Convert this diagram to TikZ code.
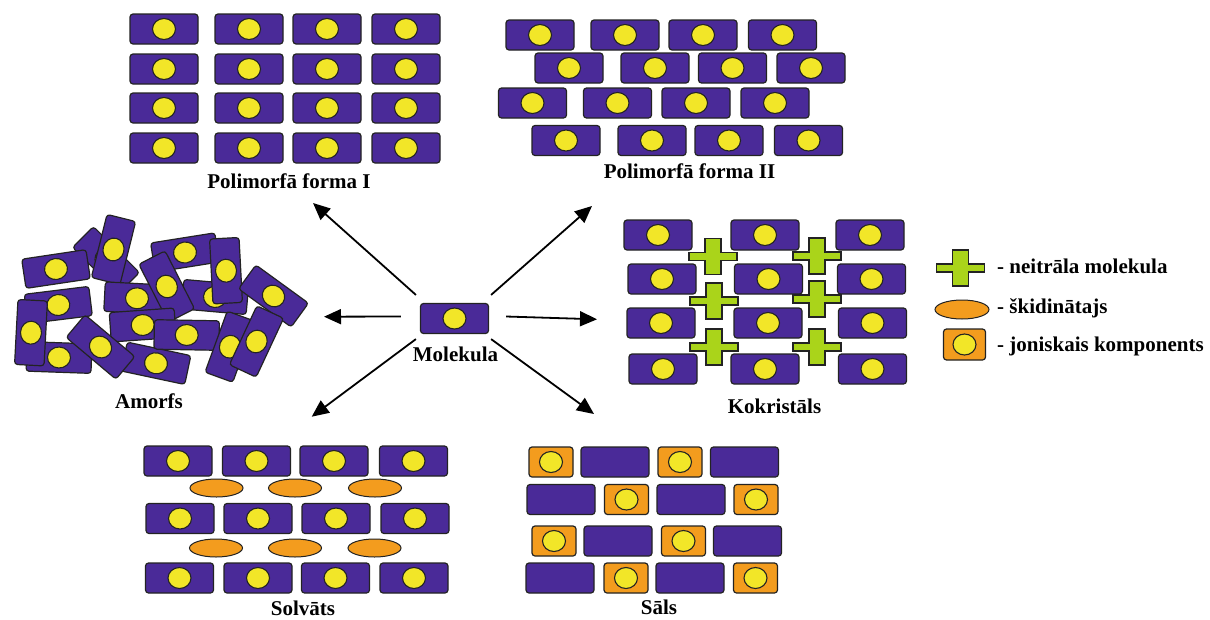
\documentclass[tikz,border=0pt]{standalone}
\usepackage{fontspec}
\setmainfont{Liberation Serif}
\usetikzlibrary{shapes.geometric,arrows.meta}

\definecolor{molpurple}{RGB}{74,42,152}
\definecolor{coreyellow}{RGB}{242,230,40}
\definecolor{ionorange}{RGB}{243,156,30}
\definecolor{neutralgreen}{RGB}{170,212,26}
\definecolor{edgegray}{RGB}{35,35,35}

\tikzset{
  molbox/.style={rectangle, rounded corners=3pt, draw=edgegray, line width=1.2pt,
    fill=molpurple, minimum width=68pt, minimum height=30pt, inner sep=0pt},
  amobox/.style={molbox, minimum width=65pt, minimum height=29.5pt},
  ionbox/.style={molbox, fill=ionorange, minimum width=44pt},
  core/.style={ellipse, draw=edgegray, line width=1.1pt, fill=coreyellow,
    minimum width=23pt, minimum height=21pt, inner sep=0pt},
  solvent/.style={ellipse, draw=edgegray, line width=1pt, fill=ionorange,
    minimum width=53pt, minimum height=18pt, inner sep=0pt},
  coformer/.style={draw=edgegray, line width=1.2pt, fill=neutralgreen},
  caption/.style={font=\fontsize{21}{24}\selectfont\bfseries, anchor=base, inner sep=0pt},
  legendtext/.style={caption, anchor=base west},
  link/.style={line width=1.8pt, -{Triangle[length=17pt,width=15pt]}},
}

% molecule: purple box with yellow core
\newcommand\molat[3]{%
  \node[molbox] (#1) at (#2,#3) {};
  \node[core] (#1c) at (#1.center) {};}
% tilted molecule of the amorphous heap
\newcommand\amorphmol[4]{%
  \node[amobox, rotate=#4] (#1) at (#2,#3) {};
  \node[core, rotate=#4] (#1c) at (#1.center) {};}
% ionic component: orange box with yellow core
\newcommand\ionmol[3]{%
  \node[ionbox] (#1) at (#2,#3) {};
  \node[core] (#1c) at (#1.center) {};}
% counter ion: plain purple box
\newcommand\counterbar[3]{\node[molbox] (#1) at (#2,#3) {};}
% neutral coformer: green plus
\newcommand\plusmol[3]{%
  \coordinate (#1) at (#2,#3);
  \draw[coformer] (#1) ++(-8,-18) -- ++(16,0) -- ++(0,14) -- ++(16,0) -- ++(0,8)
    -- ++(-16,0) -- ++(0,14) -- ++(-16,0) -- ++(0,-14) -- ++(-16,0) -- ++(0,-8)
    -- ++(16,0) -- cycle;}
% solvent molecule
\newcommand\solv[3]{\node[solvent] (#1) at (#2,#3) {};}

\begin{document}
\begin{tikzpicture}[x=1pt,y=-1pt]
\fill[white] (0,0) rectangle (1210,619);
\useasboundingbox (0,0) rectangle (1210,619);

% ---------- polymorph I ----------
\foreach \r/\y in {1/29,2/69,3/108,4/148}{
  \foreach \c/\x in {1/164,2/249,3/327,4/406}{
    \molat{pa\r\c}{\x}{\y}}}
\node[caption] (lpa) at (289,188) {Polimorfā forma I};

% ---------- polymorph II ----------
\foreach \c/\x in {1/540,2/625,3/703,4/782.5}{\molat{pb1\c}{\x}{35}}
\foreach \c/\x in {1/569,2/655,3/732.5,4/811}{\molat{pb2\c}{\x}{68}}
\foreach \c/\x in {1/532.5,2/617.5,3/696,4/775}{\molat{pb3\c}{\x}{103}}
\foreach \c/\x in {1/566,2/652,3/729,4/808.5}{\molat{pb4\c}{\x}{140.5}}
\node[caption] (lpb) at (689.5,178) {Polimorfā forma II};

% ---------- amorphous heap (back to front) ----------
\amorphmol{am2}{106}{260}{-45}
\amorphmol{am1}{56}{269}{8.5}
\amorphmol{am3}{113.5}{249.5}{76}
\amorphmol{am4}{185}{252.5}{9}
\amorphmol{am7}{137}{298.3}{-3}
\amorphmol{am8}{215}{297}{-5}
\amorphmol{am6}{166.7}{286.5}{-63}
\amorphmol{am5}{226}{270.7}{93}
\amorphmol{am9}{273.5}{296}{-36}
\amorphmol{am10}{58.3}{305}{7}
\amorphmol{am12}{59}{357.5}{-2}
\amorphmol{am11}{31}{332.7}{87}
\amorphmol{am13}{142.7}{325}{4}
\amorphmol{am15}{156}{363.3}{-12}
\amorphmol{am14}{100.5}{347}{-40}
\amorphmol{am16}{186.7}{335}{-1}
\amorphmol{am17}{230}{346.7}{70}
\amorphmol{am18}{256.5}{341.5}{65}
\node[caption] (lam) at (149,408) {Amorfs};

% ---------- single molecule ----------
\molat{m}{454.5}{318.5}
\node[caption] (lm) at (455.5,361) {Molekula};

% ---------- cocrystal ----------
\foreach \c/\x in {1/658,2/765,3/870}{\molat{kk1\c}{\x}{235}}
\foreach \c/\x in {1/662,2/768.5,3/871.5}{\molat{kk2\c}{\x}{279}}
\foreach \c/\x in {1/661,2/768,3/872.5}{\molat{kk3\c}{\x}{323}}
\foreach \c/\x in {1/663,2/765,3/872.5}{\molat{kk4\c}{\x}{369}}
\plusmol{nf1}{713}{256.5}
\plusmol{nf2}{817}{256}
\plusmol{nf3}{714}{301}
\plusmol{nf4}{817}{299}
\plusmol{nf5}{714}{347}
\plusmol{nf6}{817}{347}
\node[caption] (lkk) at (774.5,413) {Kokristāls};

% ---------- solvate ----------
\foreach \c/\x in {1/178,2/256.5,3/334,4/413.5}{\molat{sv1\c}{\x}{461}}
\foreach \c/\x in {1/180,2/258,3/336,4/415}{\molat{sv2\c}{\x}{518.5}}
\foreach \c/\x in {1/179.5,2/258,3/335.5,4/414}{\molat{sv3\c}{\x}{578}}
\foreach \c/\x in {1/216.5,2/295,3/375}{\solv{so1\c}{\x}{488}}
\foreach \c/\x in {1/216,2/295,3/374.5}{\solv{so2\c}{\x}{548}}
\node[caption] (lsv) at (303,615) {Solvāts};

% ---------- salt ----------
\ionmol{sa11}{551}{462}   \counterbar{sa12}{615}{462}
\ionmol{sa13}{680}{462}   \counterbar{sa14}{744.5}{462}
\counterbar{sa21}{561}{499.5} \ionmol{sa22}{626.5}{499.5}
\counterbar{sa23}{691}{499.5} \ionmol{sa24}{756}{499.5}
\ionmol{sa31}{554}{541}   \counterbar{sa32}{618}{541}
\ionmol{sa33}{683.5}{541} \counterbar{sa34}{747.5}{541}
\counterbar{sa41}{560}{578} \ionmol{sa42}{626}{578}
\counterbar{sa43}{690}{578} \ionmol{sa44}{755.5}{578}
\node[caption] (lsa) at (659,614) {Sāls};

% ---------- legend ----------
\plusmol{lgplus}{960.5}{268}
\node[solvent, minimum width=54pt, minimum height=19pt] (lgsolv) at (962,309.5) {};
\node[ionbox, minimum width=42pt, minimum height=31pt] (lgion) at (964.5,344.5) {};
\node[core] (lgionc) at (lgion.center) {};
\node[legendtext] (lt1) at (997,273) {- neitrāla molekula};
\node[legendtext] (lt2) at (997,313) {- škidinātajs};
\node[legendtext] (lt3) at (997,351) {- joniskais komponents};

% ---------- arrows from the single molecule ----------
\coordinate (tnw) at ([shift={(-4,-8)}]m.north west);
\coordinate (tne) at ([shift={(2,-8)}]m.north east);
\coordinate (tw)  at ([shift={(-19,-2)}]m.west);
\coordinate (te)  at ([shift={(17,-2)}]m.east);
\coordinate (tsw) at ([shift={(-4,5)}]m.south west);
\coordinate (tse) at ([shift={(2,5)}]m.south east);
\coordinate (hnw) at (313,203);
\coordinate (hne) at (592,206);
\coordinate (hw)  at (324,316.7);
\coordinate (he)  at (597,319.3);
\coordinate (hsw) at (311.7,416.7);
\coordinate (hse) at (594,414);
\draw[link] (tnw) -- (hnw);
\draw[link] (tne) -- (hne);
\draw[link] (tw)  -- (hw);
\draw[link] (te)  -- (he);
\draw[link] (tsw) -- (hsw);
\draw[link] (tse) -- (hse);
\end{tikzpicture}
\end{document}
